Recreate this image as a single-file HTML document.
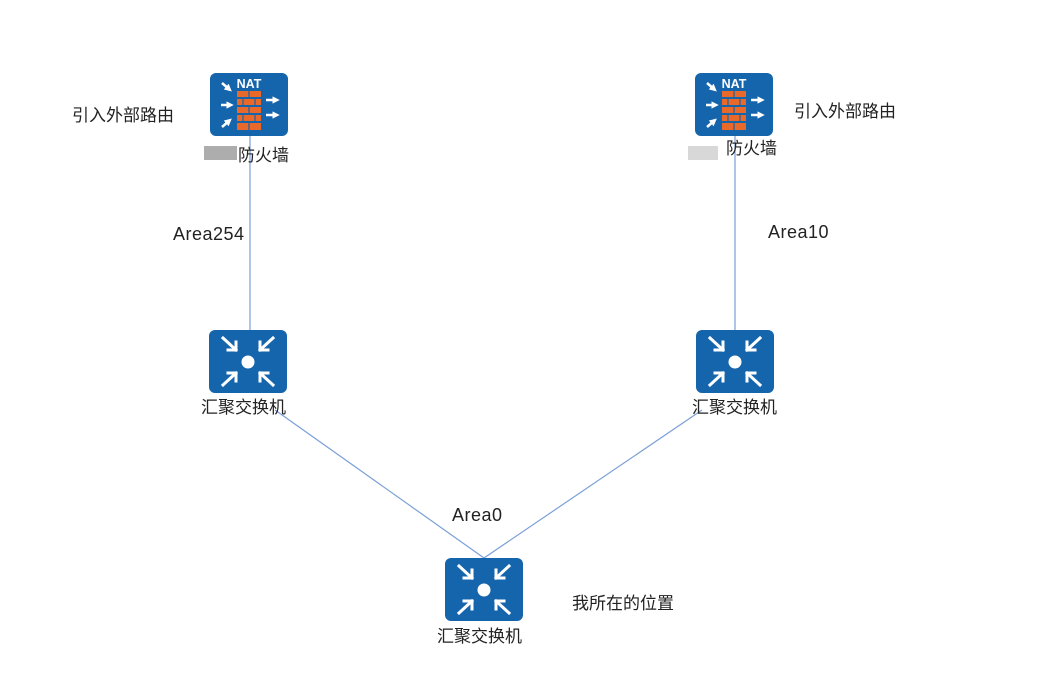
<!DOCTYPE html>
<html><head><meta charset="utf-8"><style>
body{margin:0;background:#fff;width:1044px;height:684px;overflow:hidden}
svg{display:block}
text{font-family:"Liberation Sans","Noto Sans CJK SC",sans-serif;font-size:17px;fill:#222}
text.a{font-size:18px;letter-spacing:0.5px}
</style></head><body>
<svg width="1044" height="684" viewBox="0 0 1044 684">
<defs>
<marker id="ah" viewBox="0 0 10 10" refX="5" refY="5" markerWidth="3" markerHeight="3" orient="auto"><path d="M0,0L10,5L0,10z" fill="#fff"/></marker>
<g id="fw">
<rect x="0" y="0" width="78" height="63" rx="6" fill="#1565ad"/>
<g fill="#e8692a">
<rect x="27" y="18" width="24" height="6"/><rect x="27" y="26" width="24" height="6"/><rect x="27" y="34" width="24" height="6"/><rect x="27" y="42" width="24" height="6"/><rect x="27" y="50" width="24" height="7"/>
</g>
<g stroke="#1565ad" stroke-width="1.2"><line x1="39" y1="18" x2="39" y2="24"/><line x1="33" y1="26" x2="33" y2="32"/><line x1="45" y1="26" x2="45" y2="32"/><line x1="39" y1="34" x2="39" y2="40"/><line x1="33" y1="42" x2="33" y2="48"/><line x1="45" y1="42" x2="45" y2="48"/><line x1="39" y1="50" x2="39" y2="57"/></g>
<g stroke="#fff" stroke-width="2.5" marker-end="url(#ah)">
<line x1="12" y1="10" x2="19" y2="16"/><line x1="11" y1="32" x2="20" y2="32"/><line x1="12" y1="54" x2="19" y2="48"/>
<line x1="56" y1="27" x2="66" y2="27"/><line x1="56" y1="42" x2="66" y2="42"/>
</g>
<text x="39" y="15" text-anchor="middle" style="font-size:12.5px;font-weight:bold;fill:#fff">NAT</text>
</g>
<g id="sw">
<rect x="0" y="0" width="78" height="63" rx="6" fill="#1565ad"/>
<circle cx="39" cy="32" r="6.5" fill="#fff"/>
<g stroke="#fff" stroke-width="3" fill="none" stroke-linecap="square">
<line x1="14" y1="8" x2="27" y2="20"/><polyline points="19,20 27,20 27,12"/>
<line x1="64" y1="8" x2="51" y2="20"/><polyline points="59,20 51,20 51,12"/>
<line x1="14" y1="55" x2="27" y2="43"/><polyline points="19,43 27,43 27,51"/>
<line x1="64" y1="55" x2="51" y2="43"/><polyline points="59,43 51,43 51,51"/>
</g>
</g>
</defs>
<g stroke="#7a9fd8" stroke-width="1.2">
<line x1="250" y1="136" x2="250" y2="330"/>
<line x1="735" y1="136" x2="735" y2="330"/>
<line x1="275" y1="410" x2="484" y2="558"/>
<line x1="702" y1="410" x2="484" y2="558"/>
</g>
<use href="#fw" x="210" y="73"/>
<use href="#fw" x="695" y="73"/>
<use href="#sw" x="209" y="330"/>
<use href="#sw" x="696" y="330"/>
<use href="#sw" x="445" y="558"/>
<rect x="204" y="146" width="33" height="14" fill="#8a8a8a" opacity="0.7"/>
<rect x="688" y="146" width="30" height="14" fill="#c8c8c8" opacity="0.7"/>
<text x="72" y="121">引入外部路由</text>
<text x="238" y="161">防火墙</text>
<text x="726" y="154">防火墙</text>
<text x="794" y="117">引入外部路由</text>
<text class="a" x="173" y="240">Area254</text>
<text class="a" x="768" y="238">Area10</text>
<text x="201" y="413">汇聚交换机</text>
<text x="692" y="413">汇聚交换机</text>
<text class="a" x="452" y="521">Area0</text>
<text x="437" y="642">汇聚交换机</text>
<text x="572" y="609">我所在的位置</text>
</svg>
</body></html>
